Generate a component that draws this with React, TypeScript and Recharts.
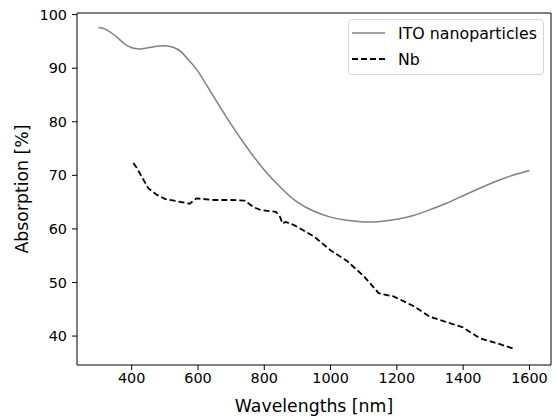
import { Label, Line, LineChart, ReferenceLine, XAxis, YAxis } from 'recharts';

// ITO nanoparticles (solid grey)
const itoWavelengths = [300, 320, 350, 375, 400, 425, 450, 475, 500, 525, 550, 575, 600, 650, 700, 750, 800, 850, 900, 950, 1000, 1050, 1100, 1150, 1200, 1250, 1300, 1350, 1400, 1450, 1500, 1550, 1600];
const itoAbsorption = [97.6, 97.3, 96.1, 94.7, 93.8, 93.6, 93.8, 94.1, 94.2, 93.9, 93.0, 91.3, 89.4, 84.4, 79.5, 75.0, 71.0, 67.7, 65.0, 63.3, 62.2, 61.6, 61.3, 61.4, 61.8, 62.5, 63.6, 64.8, 66.2, 67.6, 68.9, 70.0, 70.9];

// Nb (dashed black)
const nbWavelengths = [405, 415, 450, 475, 500, 550, 575, 595, 650, 700, 740, 770, 790, 835, 848, 855, 865, 890, 950, 1000, 1050, 1100, 1145, 1190, 1250, 1300, 1350, 1400, 1425, 1450, 1500, 1550];
const nbAbsorption = [72.3, 71.4, 67.6, 66.4, 65.6, 65.0, 64.7, 65.7, 65.4, 65.4, 65.3, 64.0, 63.5, 63.2, 62.2, 61.0, 61.3, 60.7, 58.6, 56.0, 54.0, 51.2, 48.0, 47.4, 45.6, 43.6, 42.6, 41.6, 40.6, 39.6, 38.7, 37.7];

const xTicks = [400, 600, 800, 1000, 1200, 1400, 1600];
const yTicks = [40, 50, 60, 70, 80, 90, 100];

const itoData = itoWavelengths.map((x, i) => ({ x, ito: itoAbsorption[i] }));
const nbData = nbWavelengths.map((x, i) => ({ x, nb: nbAbsorption[i] }));

const xDomain = [235, 1665];
const yDomain = [34.6, 100.3];

const font = '"DejaVu Sans", sans-serif';

function LegendBox() {
  return (
    <div
      style={{
        position: 'absolute',
        left: 348,
        top: 19,
        width: 196,
        height: 56,
        boxSizing: 'border-box',
        border: '1px solid #d6d6d6',
        borderRadius: 4,
        background: 'rgba(255,255,255,0.8)',
      }}
    >
      <svg width={196} height={56} style={{ position: 'absolute', left: -1, top: -1 }}>
        <line x1={4} x2={37} y1={14} y2={14} stroke="#808080" strokeWidth={1.5} />
        <line x1={4} x2={37} y1={40} y2={40} stroke="#000" strokeWidth={1.8} strokeDasharray="6 3" />
        <text x={50} y={14} dominantBaseline="central" fontFamily={font} fontSize={15.8}>ITO nanoparticles</text>
        <text x={50} y={40} dominantBaseline="central" fontFamily={font} fontSize={15.8}>Nb</text>
      </svg>
    </div>
  );
}

export default function App() {
  return (
    <div style={{ position: 'absolute', left: 0, top: 0, width: 557, height: 419 }}>
      <LineChart width={557} height={419} margin={{ top: 13, right: 6, left: 0, bottom: 0 }}>
        <XAxis
          type="number"
          dataKey="x"
          domain={xDomain}
          ticks={xTicks}
          allowDataOverflow
          height={54}
          tickSize={5}
          tickMargin={3}
          stroke="#000"
          tick={{ fill: '#000', fontSize: 14.4, fontFamily: font }}
        >
          <Label
            content={() => (
              <text x={314} y={406} textAnchor="middle" dominantBaseline="central" fontFamily={font} fontSize={17.3} fill="#000">
                Wavelengths [nm]
              </text>
            )}
          />
        </XAxis>
        <YAxis
          type="number"
          domain={yDomain}
          ticks={yTicks}
          allowDataOverflow
          width={77}
          tickSize={5}
          tickMargin={5}
          stroke="#000"
          tick={{ fill: '#000', fontSize: 14.4, fontFamily: font }}
        >
          <Label
            content={() => (
              <text x={22} y={189} transform="rotate(-90 22 189)" textAnchor="middle" dominantBaseline="central" fontFamily={font} fontSize={17.3} fill="#000">
                Absorption [%]
              </text>
            )}
          />
        </YAxis>
        {/* top and right spines */}
        <ReferenceLine y={yDomain[1]} stroke="#000" strokeWidth={1} />
        <ReferenceLine x={xDomain[1]} stroke="#000" strokeWidth={1} />
        <Line
          data={itoData}
          dataKey="ito"
          type="natural"
          stroke="#808080"
          strokeWidth={1.5}
          dot={false}
          isAnimationActive={false}
        />
        <Line
          data={nbData}
          dataKey="nb"
          type="linear"
          stroke="#000"
          strokeWidth={1.8}
          strokeDasharray="6 3"
          dot={false}
          isAnimationActive={false}
        />
      </LineChart>
      <LegendBox />
    </div>
  );
}
